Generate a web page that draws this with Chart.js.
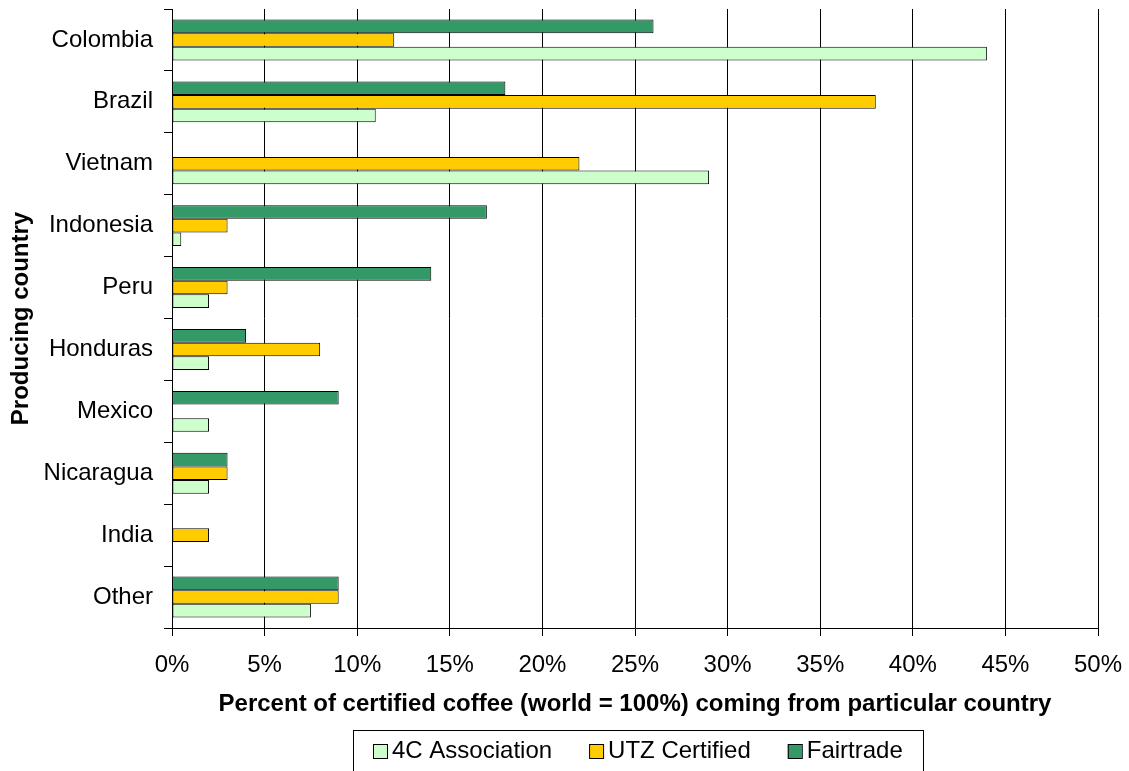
<!DOCTYPE html>
<html>
<head>
<meta charset="utf-8">
<script src="https://cdn.jsdelivr.net/npm/chart.js@4.4.1/dist/chart.umd.min.js"></script>
<style>
html,body{margin:0;padding:0;background:#fff;}
#wrap{width:1129px;height:771px;position:relative;}
</style>
</head>
<body>
<div id="wrap"><canvas id="c" width="1129" height="771"></canvas></div>
<script>
const categories = ["Colombia","Brazil","Vietnam","Indonesia","Peru","Honduras","Mexico","Nicaragua","India","Other"];
const fairtrade = [26, 18, null, 17, 14, 4, 9, 3, null, 9];
const utz = [12, 38, 22, 3, 3, 8, null, 3, 2, 9];
const fourC = [44, 11, 29, 0.5, 2, 2, 2, 2, null, 7.5];
const xTicks = [0,5,10,15,20,25,30,35,40,45,50];

const FONT = "'Liberation Sans', Arial, sans-serif";

// Custom boxed legend drawn below the x-axis title
const boxedLegend = {
  id: 'boxedLegend',
  afterDraw(chart) {
    const ctx = chart.ctx;
    const ds = chart.data.datasets.slice().reverse();
    ctx.save();
    ctx.font = "24px " + FONT;
    const box = 14, gapText = 5, gapItem = 37, margin = 20;
    const widths = ds.map(d => ctx.measureText(d.label).width);
    let total = 0;
    widths.forEach((w, i) => { total += box + gapText + w + (i < widths.length - 1 ? gapItem : 0); });
    const cx = (chart.chartArea.left + chart.chartArea.right) / 2 + 3;
    const left = Math.round(cx - total / 2 - margin);
    const top = 730;
    ctx.strokeStyle = '#000';
    ctx.lineWidth = 1;
    ctx.strokeRect(left + 0.5, top + 0.5, Math.round(total + 2 * margin), 60);
    let x = left + margin;
    const cy = 751;
    ds.forEach((d, i) => {
      ctx.fillStyle = d.backgroundColor;
      ctx.fillRect(x, cy - 7, box, box);
      ctx.strokeStyle = '#000';
      ctx.strokeRect(x + 0.5, cy - 7 + 0.5, box, box);
      ctx.fillStyle = '#000';
      ctx.textBaseline = 'middle';
      ctx.textAlign = 'left';
      ctx.fillText(d.label, x + box + gapText, cy);
      x += box + gapText + widths[i] + gapItem;
    });
    ctx.restore();
  }
};

new Chart(document.getElementById('c'), {
  type: 'bar',
  data: {
    labels: categories,
    datasets: [
      { label: 'Fairtrade', data: fairtrade, backgroundColor: '#339966' },
      { label: 'UTZ Certified', data: utz, backgroundColor: '#FFCC00' },
      { label: '4C Association', data: fourC, backgroundColor: '#CCFFCC' }
    ]
  },
  options: {
    indexAxis: 'y',
    responsive: false,
    animation: false,
    devicePixelRatio: 1,
    layout: { padding: { left: 0, right: 31, top: 9, bottom: 46 } },
    datasets: { bar: { barPercentage: 1.0, categoryPercentage: 0.66, borderColor: '#000', borderWidth: 1, borderSkipped: false } },
    scales: {
      x: {
        min: 0, max: 50,
        afterBuildTicks(scale) { scale.ticks = xTicks.map(v => ({ value: v })); },
        afterFit(scale) { scale.height = 97; scale.paddingLeft = 0; scale.paddingRight = 0; },
        ticks: {
          color: '#000',
          font: { family: FONT, size: 24 },
          padding: 15,
          maxRotation: 0,
          callback: v => v + '%'
        },
        grid: { color: '#000', lineWidth: 1, tickLength: 8, drawTicks: true },
        border: { display: true, color: '#000', width: 1 },
        title: {
          display: true,
          text: 'Percent of certified coffee (world = 100%) coming from particular country',
          color: '#000',
          font: { family: FONT, size: 24, weight: 'bold' },
          padding: { top: 0, bottom: 6 }
        }
      },
      y: {
        afterFit(scale) { scale.width = 172; scale.paddingTop = 0; scale.paddingBottom = 0; },
        ticks: {
          color: '#000',
          font: { family: FONT, size: 24 },
          padding: 11
        },
        grid: { display: true, drawOnChartArea: false, drawTicks: true, tickLength: 8, color: '#000', offset: true },
        border: { display: true, color: '#000', width: 1 },
        title: {
          display: true,
          text: 'Producing country',
          color: '#000',
          font: { family: FONT, size: 24, weight: 'bold' },
          padding: { top: 7, bottom: 0 }
        }
      }
    },
    plugins: {
      legend: { display: false },
      tooltip: { enabled: false }
    }
  },
  plugins: [boxedLegend]
});
</script>
</body>
</html>
